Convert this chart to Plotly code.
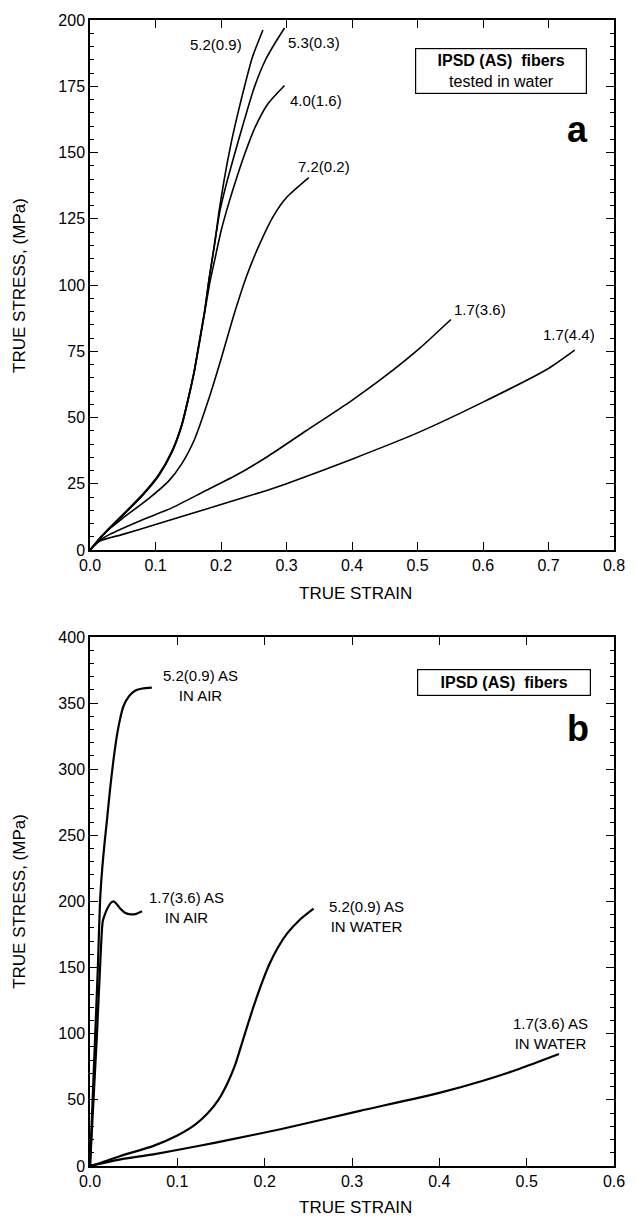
import plotly.graph_objects as go

# ---------------- Panel (a): IPSD (AS) fibers tested in water ----------------
a_52_09_strain = [0, 0.025, 0.05, 0.08, 0.105, 0.125, 0.14, 0.15, 0.159, 0.167, 0.175, 0.182, 0.19, 0.197, 0.205, 0.215, 0.225, 0.236, 0.248, 0.264]
a_52_09_stress = [0, 7.2, 13.4, 20.9, 28.5, 37.3, 47.4, 57.4, 67.5, 78.9, 90.2, 102.7, 115.2, 127.8, 140, 153, 164, 175, 186, 196.2]

a_53_03_strain = [0, 0.025, 0.05, 0.08, 0.105, 0.125, 0.14, 0.15, 0.159, 0.167, 0.175, 0.182, 0.19, 0.198, 0.207, 0.218, 0.233, 0.25, 0.268, 0.283, 0.297]
a_53_03_stress = [0, 7.0, 13.2, 20.7, 28.3, 37.0, 47.0, 57.0, 67.2, 78.5, 90.0, 102.5, 115.0, 127.5, 137, 147, 160, 174, 185, 191.5, 197]

a_40_16_strain = [0, 0.025, 0.05, 0.08, 0.105, 0.125, 0.14, 0.15, 0.159, 0.167, 0.175, 0.183, 0.19, 0.2, 0.212, 0.222, 0.235, 0.252, 0.272, 0.297]
a_40_16_stress = [0, 7.0, 13.0, 20.5, 28.0, 36.8, 46.8, 56.8, 67.0, 78.0, 89.5, 101.0, 109, 120.3, 131, 139, 148.6, 159.5, 168.5, 175.3]

a_72_02_strain = [0, 0.02, 0.05, 0.09, 0.12, 0.14, 0.16, 0.18, 0.2, 0.22, 0.24, 0.26, 0.28, 0.3, 0.334]
a_72_02_stress = [0, 5.9, 12.0, 19.5, 26.0, 32.5, 42.0, 56.0, 72.0, 89.0, 104.0, 116.0, 126.0, 133.0, 140.5]

a_17_36_strain = [0, 0.01, 0.03, 0.075, 0.125, 0.175, 0.225, 0.27, 0.33, 0.40, 0.45, 0.504, 0.551]
a_17_36_stress = [0, 2.8, 5.9, 10.9, 15.9, 22.2, 28.5, 35.1, 45, 56.5, 65.5, 76.3, 87.0]

a_17_44_strain = [0, 0.015, 0.05, 0.1, 0.15, 0.2, 0.27, 0.3, 0.4, 0.5, 0.6, 0.7, 0.74]
a_17_44_stress = [0, 3.4, 5.9, 9.6, 13.4, 17.2, 22.5, 25.0, 34.3, 44.2, 55.8, 68.5, 75.4]

a_labels = ["5.2(0.9)", "5.3(0.3)", "4.0(1.6)", "7.2(0.2)", "1.7(3.6)", "1.7(4.4)"]
a_label_x = [0.192, 0.342, 0.345, 0.357, 0.595, 0.731]
a_label_y = [190.8, 191.7, 169.8, 144.6, 90.7, 81.3]

# ---------------- Panel (b): IPSD (AS) fibers in air vs water ----------------
b_52_air_strain = [0, 0.003, 0.006, 0.009, 0.0115, 0.014, 0.0165, 0.0195, 0.023, 0.0265, 0.03, 0.0335, 0.038, 0.0445, 0.052, 0.06, 0.0708]
b_52_air_stress = [0, 50, 100, 150, 200, 225, 243, 262, 285, 305, 322, 335, 347, 355, 359.5, 361, 361.6]

b_17_air_strain = [0, 0.004, 0.008, 0.0115, 0.0146, 0.0175, 0.0202, 0.024, 0.027, 0.030, 0.034, 0.040, 0.047, 0.053, 0.0596]
b_17_air_stress = [0, 50, 100, 150, 185, 191, 195, 199, 200, 198.5, 195, 191.5, 190.2, 190.6, 192.5]

b_52_water_strain = [0, 0.0127, 0.035, 0.0727, 0.1, 0.12, 0.135, 0.147, 0.157, 0.166, 0.175, 0.186, 0.196, 0.205, 0.215, 0.226, 0.24, 0.256]
b_52_water_stress = [0, 2.5, 7.6, 15.2, 23, 31, 40, 50, 62, 76, 95, 118, 137, 152, 165, 176, 186, 194.5]

b_17_water_strain = [0, 0.009, 0.035, 0.0727, 0.127, 0.155, 0.218, 0.309, 0.401, 0.45, 0.492, 0.537]
b_17_water_stress = [0, 1.3, 5.0, 8.8, 15.5, 19.2, 27.8, 41.7, 55.5, 64.5, 73.5, 84.6]

b_labels = ["5.2(0.9) AS<br>IN AIR", "1.7(3.6) AS<br>IN AIR", "5.2(0.9) AS<br>IN WATER", "1.7(3.6) AS<br>IN WATER"]
b_label_x = [0.127, 0.110, 0.317, 0.527]
b_label_y = [363.6, 195.7, 188.6, 100]

FONT = "Arial, Liberation Sans, Helvetica, sans-serif"

fig = go.Figure()

top_series = [(a_52_09_strain, a_52_09_stress), (a_53_03_strain, a_53_03_stress),
              (a_40_16_strain, a_40_16_stress), (a_72_02_strain, a_72_02_stress),
              (a_17_36_strain, a_17_36_stress), (a_17_44_strain, a_17_44_stress)]
for xs, ys in top_series:
    fig.add_trace(go.Scatter(x=xs, y=ys, mode="lines", line=dict(color="black", width=1.6, shape="spline", smoothing=0.6),
                             xaxis="x", yaxis="y", showlegend=False, hoverinfo="skip"))

bot_series = [(b_52_air_strain, b_52_air_stress), (b_17_air_strain, b_17_air_stress),
              (b_52_water_strain, b_52_water_stress), (b_17_water_strain, b_17_water_stress)]
for xs, ys in bot_series:
    fig.add_trace(go.Scatter(x=xs, y=ys, mode="lines", line=dict(color="black", width=2.2, shape="spline", smoothing=0.6),
                             xaxis="x2", yaxis="y2", showlegend=False, hoverinfo="skip"))

axis_common = dict(showline=True, linecolor="black", linewidth=1.5, mirror="allticks",
                   ticks="inside", ticklen=8, tickwidth=1.3, tickcolor="black",
                   showgrid=False, zeroline=False,
                   tickfont=dict(family=FONT, size=16, color="black"))

fig.update_layout(
    width=637, height=1222, autosize=False,
    margin=dict(l=90, r=13, t=18, b=56),
    paper_bgcolor="white", plot_bgcolor="white",
    xaxis=dict(domain=[0, 1], anchor="y", range=[0, 0.8], dtick=0.1, tickformat=".1f", **axis_common),
    yaxis=dict(domain=[0.5375, 1], anchor="x", range=[0, 200], dtick=25,
               minor=dict(ticks="inside", ticklen=4, dtick=5, tickcolor="black", tickwidth=1), **axis_common),
    xaxis2=dict(domain=[0, 1], anchor="y2", range=[0, 0.6], dtick=0.1, tickformat=".1f", **axis_common),
    yaxis2=dict(domain=[0, 0.4617], anchor="x2", range=[0, 400], dtick=50,
                minor=dict(ticks="inside", ticklen=4, dtick=10, tickcolor="black", tickwidth=1), **axis_common),
)

ann = []
for t, x, y in zip(a_labels, a_label_x, a_label_y):
    ann.append(dict(text=t, x=x, y=y, xref="x", yref="y", showarrow=False,
                    xanchor="center", yanchor="middle",
                    font=dict(family=FONT, size=15, color="black")))
for t, x, y in zip(b_labels, b_label_x, b_label_y):
    ann.append(dict(text=t, x=x, y=y, xref="x2", yref="y2", showarrow=False, align="center",
                    xanchor="center", yanchor="middle",
                    font=dict(family=FONT, size=15, color="black")))

# boxed captions
ann.append(dict(text="<b>IPSD (AS)  fibers</b><br>tested in water", x=0.628, y=180.6, xref="x", yref="y",
                showarrow=False, align="center", xanchor="center", yanchor="middle",
                bordercolor="black", borderwidth=1.2, borderpad=3,
                bgcolor="white", width=164, font=dict(family=FONT, size=16, color="black")))
ann.append(dict(text="<b>IPSD (AS)  fibers</b>", x=0.4735, y=365.9, xref="x2", yref="y2",
                showarrow=False, align="center", xanchor="center", yanchor="middle",
                bordercolor="black", borderwidth=1.2, borderpad=4,
                bgcolor="white", width=164, font=dict(family=FONT, size=16, color="black")))
# panel letters
ann.append(dict(text="<b>a</b>", x=0.745, y=158.7, xref="x", yref="y", showarrow=False,
                xanchor="center", yanchor="middle",
                font=dict(family=FONT, size=36, color="black")))
ann.append(dict(text="<b>b</b>", x=0.559, y=331, xref="x2", yref="y2", showarrow=False,
                xanchor="center", yanchor="middle",
                font=dict(family=FONT, size=36, color="black")))

# axis titles
for yp in [0.7683, 0.2308]:
    ann.append(dict(text="TRUE STRESS, (MPa)", x=-0.1348, y=yp, xref="paper", yref="paper",
                    xanchor="center", yanchor="middle",
                    showarrow=False, textangle=-90, font=dict(family=FONT, size=17, color="black")))
for yp in [0.5, -0.0366]:
    ann.append(dict(text="TRUE STRAIN", x=0.5075, y=yp, xref="paper", yref="paper",
                    xanchor="center", yanchor="middle",
                    showarrow=False, font=dict(family=FONT, size=17, color="black")))

fig.update_layout(annotations=ann)
fig.write_html("out.html")
